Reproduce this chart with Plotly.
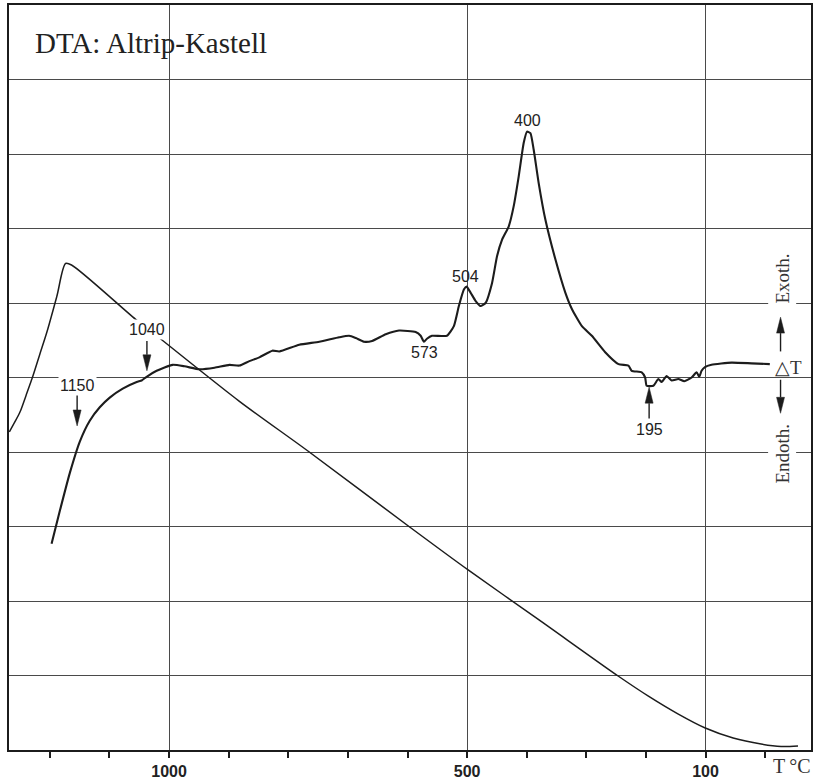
import plotly.graph_objects as go

# Time axis in chart divisions (one division per bottom tick), ΔT / T in grid divisions
temp_t = [-0.68, -0.59, -0.50, -0.40, -0.285, -0.17, -0.05, 0.117, 0.263, 0.363, 1.439,
          1.791, 3.180, 4.318, 6.025, 7.029, 8.201, 9.54, 10.042, 10.544, 10.996, 11.464,
          11.933, 12.268, 12.552]
temp_y = [4.27, 4.40, 4.54, 4.76, 5.02, 5.31, 5.61, 6.09, 6.53, 6.51, 5.78,
          5.56, 4.68, 4.02, 3.00, 2.41, 1.75, 0.99, 0.723, 0.482, 0.295, 0.161,
          0.080, 0.047, 0.054]

dta_t = [0.028, 0.167, 0.335, 0.502, 0.669, 0.837, 1.004, 1.222, 1.456, 1.540, 1.623, 1.791,
         2.059, 2.259, 2.51, 2.762, 3.013, 3.18, 3.347, 3.515, 3.732, 3.849, 4.184, 4.519,
         4.854, 5.021, 5.133, 5.272, 5.406, 5.635, 5.858, 6.137, 6.221, 6.276, 6.326, 6.41,
         6.661, 6.778, 6.862, 6.946, 6.991, 7.058, 7.141, 7.225, 7.309, 7.419, 7.503, 7.587,
         7.699, 7.782, 7.866, 7.95, 8.005, 8.062, 8.117, 8.201, 8.313, 8.48, 8.648, 8.758,
         8.926, 9.093, 9.317, 9.54, 9.707, 9.762, 9.93, 9.987, 10.013, 10.126, 10.209, 10.264,
         10.348, 10.432, 10.544, 10.644, 10.767, 10.85, 10.895, 10.934, 10.991, 11.101, 11.436,
         11.771, 12.079]
dta_y = [2.77, 3.21, 3.72, 4.14, 4.42, 4.60, 4.73, 4.85, 4.94, 4.96, 5.01, 5.09,
         5.17, 5.15, 5.11, 5.13, 5.17, 5.16, 5.22, 5.27, 5.36, 5.35, 5.44, 5.48,
         5.54, 5.56, 5.53, 5.48, 5.49, 5.58, 5.63, 5.61, 5.56, 5.48, 5.52, 5.56,
         5.56, 5.69, 5.96, 6.18, 6.22, 6.14, 6.03, 5.96, 6.00, 6.27, 6.63, 6.85,
         7.03, 7.30, 7.70, 8.15, 8.30, 8.28, 8.06, 7.61, 7.12, 6.59, 6.14, 5.92,
         5.69, 5.56, 5.34, 5.18, 5.16, 5.09, 5.07, 5.00, 4.89, 4.89, 4.98, 4.94,
         5.02, 4.96, 4.98, 4.95, 5.00, 5.07, 5.01, 5.09, 5.14, 5.17, 5.20,
         5.19, 5.18]

# Bottom axis: tick every division, temperature labels on three of them
tick_pos = [2, 7, 11]
tick_text = ["1000", "500", "100"]

# Peak / reaction temperatures: (label, t, y)
peak_labels = [("573", 6.288, 5.33), ("504", 6.974, 6.35), ("400", 8.017, 8.45)]
# Arrow-marked temperatures: (label, t, label_y, tip_y, tail_y)
arrow_labels = [("1040", 1.628, 5.64, 5.09, 5.49),
                ("1150", 0.457, 4.89, 4.35, 4.79),
                ("195", 10.054, 4.30, 4.87, 4.45)]

PX_X = 59.75   # pixels per time division
PX_Y = 74.7    # pixels per grid division

INK = "#1c1c1c"
GRID = "#4a4a4a"

fig = go.Figure()
fig.add_trace(go.Scatter(x=temp_t, y=temp_y, mode="lines",
                         line=dict(color=INK, width=1.5, shape="spline", smoothing=0.8),
                         hoverinfo="skip", showlegend=False))
fig.add_trace(go.Scatter(x=dta_t, y=dta_y, mode="lines",
                         line=dict(color=INK, width=2.1, shape="spline", smoothing=0.5),
                         hoverinfo="skip", showlegend=False))

shapes = []


def arrow(x, tip, tail, head_len=16, half_w=4):
    """Shaft plus a narrow filled arrowhead pointing at (x, tip)."""
    s = 1 if tip > tail else -1
    hl = head_len / PX_Y
    hw = half_w / PX_X
    base = tip - s * hl
    shapes.append(dict(type="line", x0=x, x1=x, y0=tail, y1=base,
                       line=dict(color=INK, width=1.4), layer="above"))
    shapes.append(dict(type="path",
                       path=f"M {x - hw},{base} L {x},{tip} L {x + hw},{base} Z",
                       fillcolor=INK, line=dict(color=INK, width=0.5), layer="above"))


annotations = []
num_font = dict(family="Liberation Sans, Arial, sans-serif", size=16, color="#222")

for text, t, y in peak_labels:
    annotations.append(dict(x=t, y=y, text=text, showarrow=False, font=num_font,
                            xanchor="center", yanchor="middle"))

for text, t, ly, tip, tail in arrow_labels:
    annotations.append(dict(x=t, y=ly, text=text, showarrow=False, font=num_font,
                            xanchor="center", yanchor="middle", bgcolor="white", borderpad=1))
    arrow(t, tip, tail)

# ΔT direction markers on the right margin
arrow(12.259, 5.81, 5.35)
arrow(12.259, 4.52, 4.97)

serif = "Liberation Serif, Times New Roman, serif"
annotations += [
    dict(x=-0.285, y=9.49, text="DTA: Altrip-Kastell", showarrow=False,
         xanchor="left", yanchor="middle", font=dict(family=serif, size=29, color="#222")),
    dict(x=12.285, y=6.33, text="Exoth.", textangle=-90, showarrow=False,
         font=dict(family=serif, size=19, color="#333"), bgcolor="white", borderpad=3),
    dict(x=12.285, y=3.98, text="Endoth.", textangle=-90, showarrow=False,
         font=dict(family=serif, size=19, color="#333"), bgcolor="white", borderpad=3),
    dict(x=12.39, y=5.14, text="△T", showarrow=False,
         font=dict(family=serif, size=19, color="#333")),
    dict(xref="paper", yref="paper", x=0.976, y=-0.021, text="T\u202f°C", showarrow=False,
         xanchor="center", yanchor="middle",
         font=dict(family=serif, size=20, color="#333")),
]

fig.update_layout(
    width=816, height=783, autosize=False,
    margin=dict(l=9, r=3, t=5, b=31),
    paper_bgcolor="white", plot_bgcolor="white",
    shapes=shapes, annotations=annotations,
    xaxis=dict(range=[-0.686, 12.77], tickvals=tick_pos, ticktext=tick_text,
               ticks="outside", ticklen=6, tickwidth=1.5, tickcolor=INK,
               tickfont=dict(family="Liberation Sans, Arial, sans-serif", size=16,
                             color="#222", weight="bold"),
               showgrid=True, gridcolor=GRID, gridwidth=1,
               minor=dict(dtick=1, tick0=0, ticks="outside", ticklen=6, tickwidth=1.5,
                          tickcolor=INK, showgrid=False),
               showline=True, mirror=True, linecolor=INK, linewidth=2,
               zeroline=False, fixedrange=True),
    yaxis=dict(range=[0, 10], tickvals=list(range(1, 10)), showticklabels=False,
               ticks="", showgrid=True, gridcolor=GRID, gridwidth=1,
               showline=True, mirror=True, linecolor=INK, linewidth=2,
               zeroline=False, fixedrange=True),
)

fig.write_html("out.html")
